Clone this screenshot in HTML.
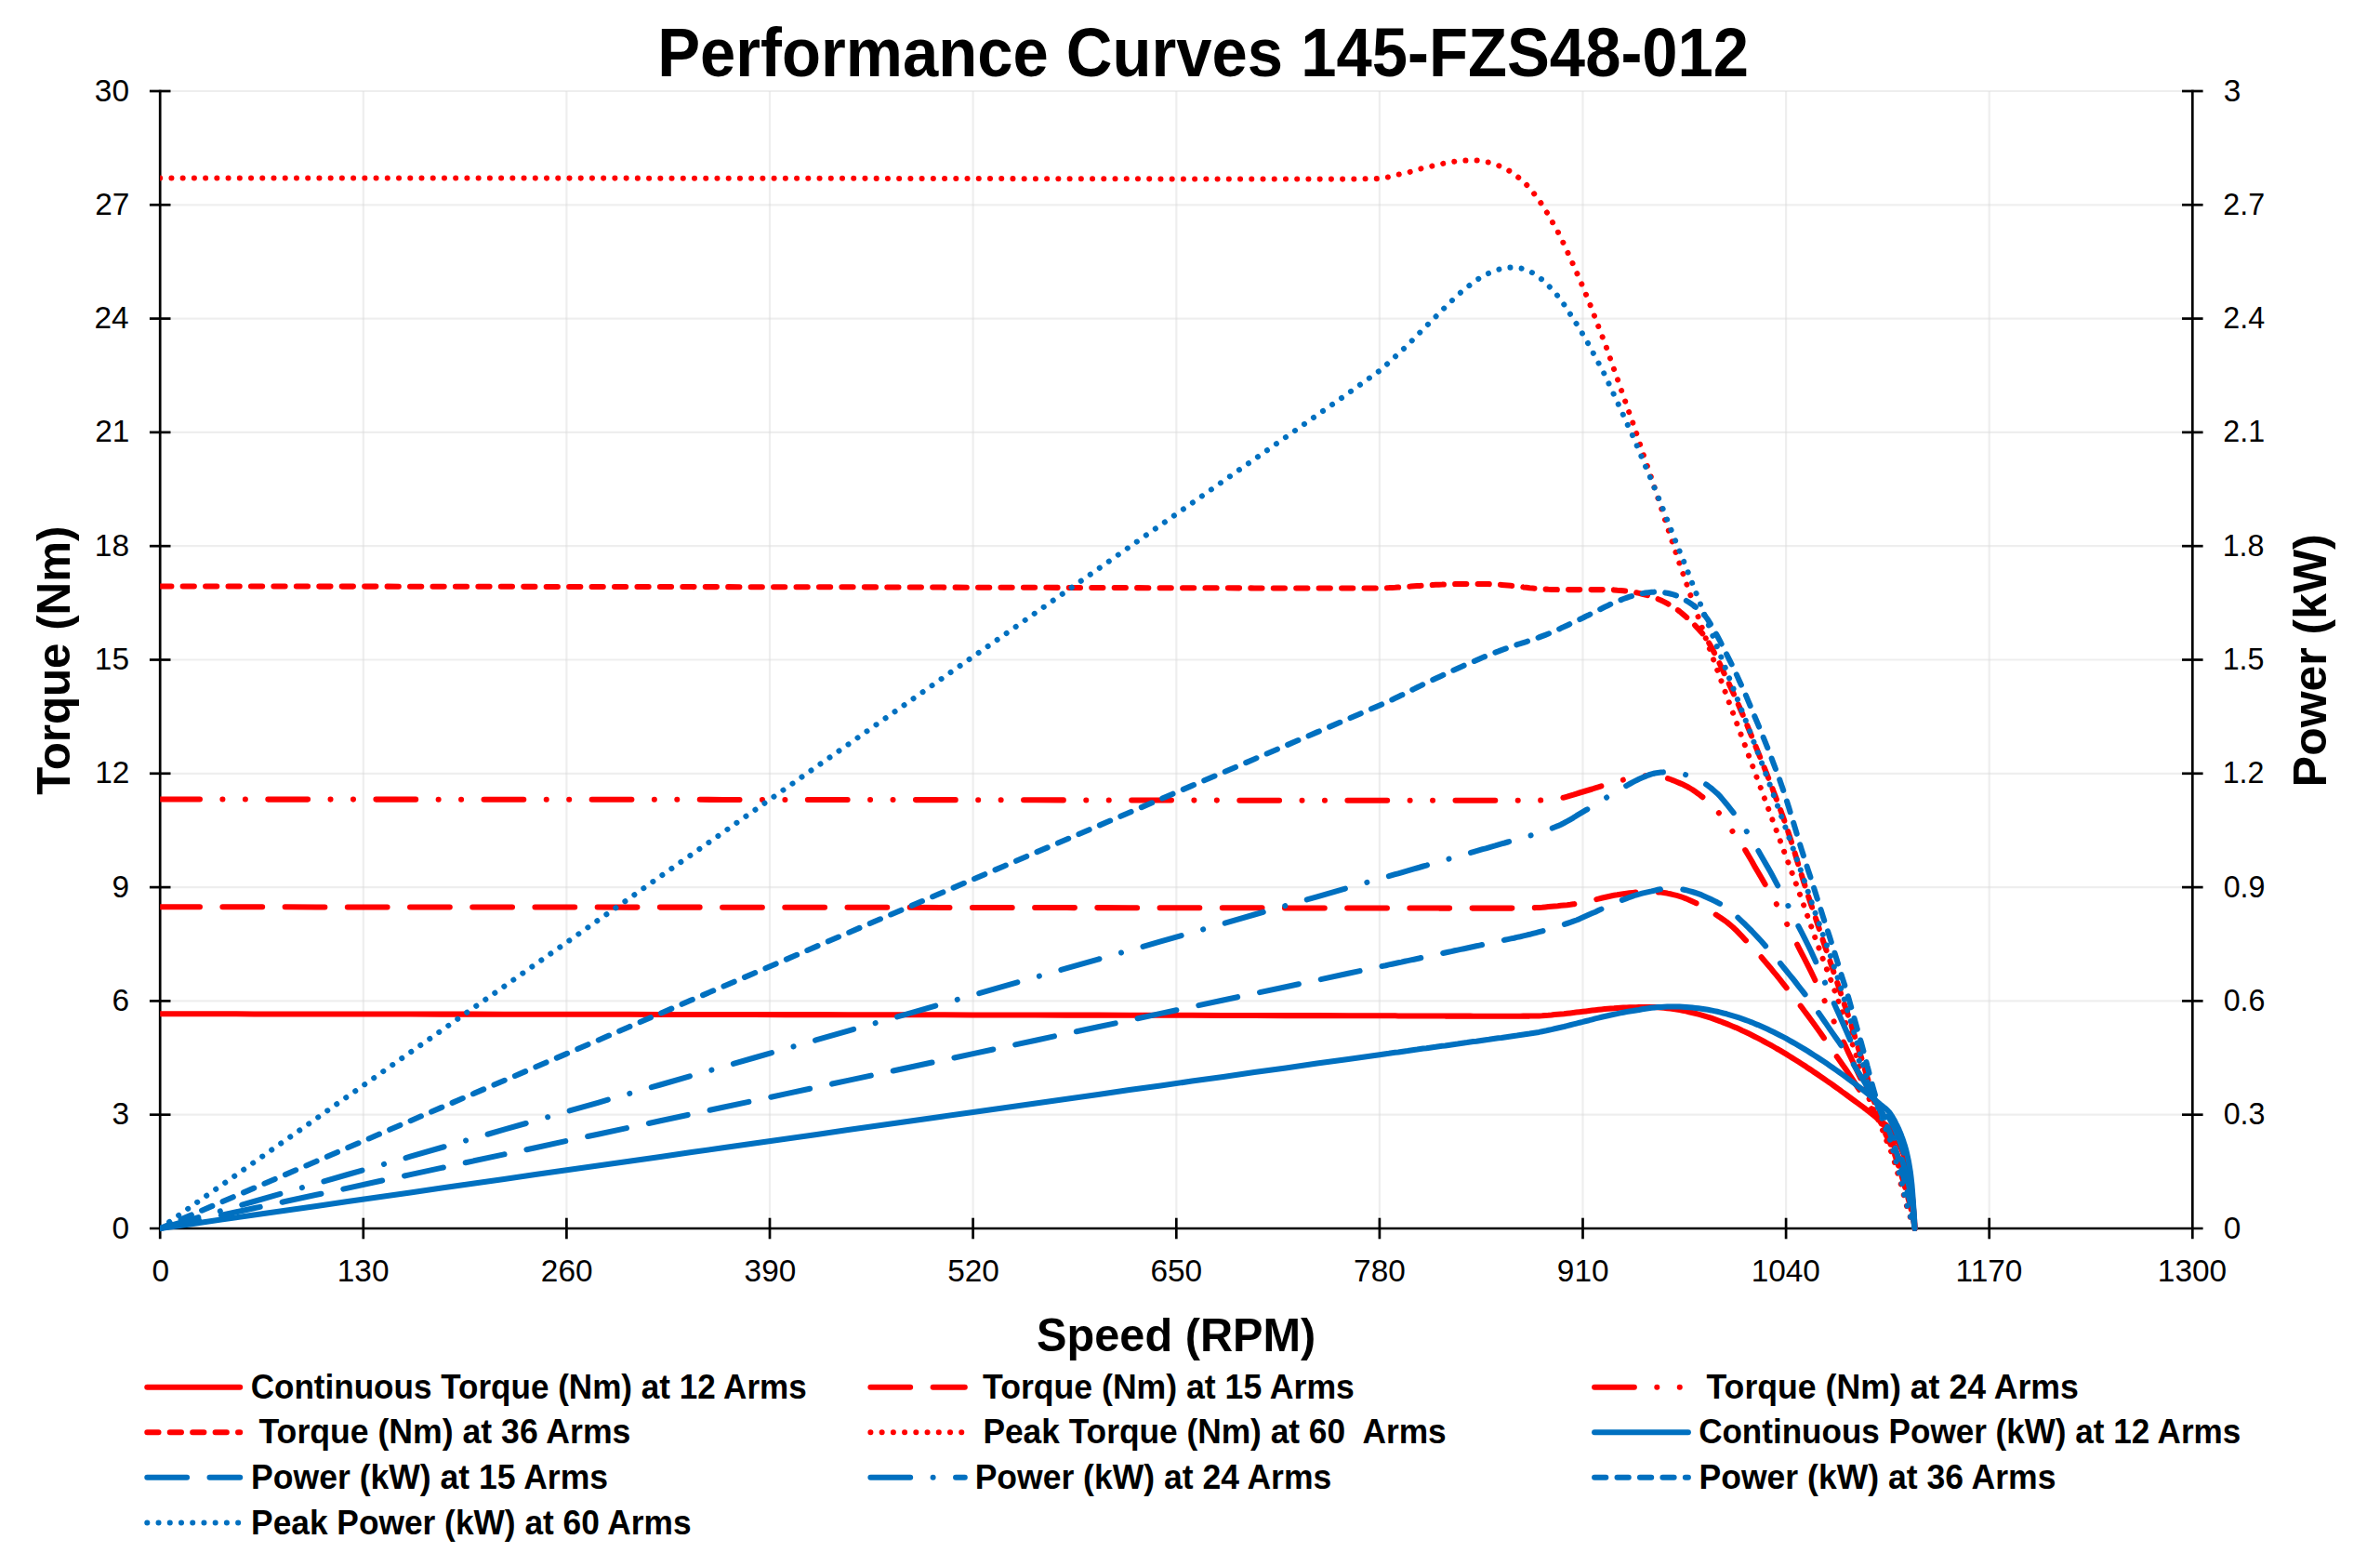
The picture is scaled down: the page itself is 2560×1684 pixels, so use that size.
<!DOCTYPE html>
<html lang="en"><head><meta charset="utf-8"><title>Performance Curves 145-FZS48-012</title>
<style>html,body{margin:0;padding:0;background:#fff}body{width:2560px;height:1684px;overflow:hidden}svg{display:block}text{font-family:"Liberation Sans",Arial,sans-serif;fill:#000}</style></head><body>
<svg width="2560" height="1684" viewBox="0 0 2560 1684">
<rect width="2560" height="1684" fill="#fff"/>
<defs><clipPath id="plot"><rect x="172.2" y="94.0" width="2190.1" height="1231.0"/></clipPath></defs>
<g stroke="#D9D9D9" stroke-opacity="0.46" stroke-width="2.2" fill="none"><line x1="183.2" x2="2347.3" y1="1198.7" y2="1198.7"/><line x1="183.2" x2="2347.3" y1="1076.4" y2="1076.4"/><line x1="183.2" x2="2347.3" y1="954.1" y2="954.1"/><line x1="183.2" x2="2347.3" y1="831.8" y2="831.8"/><line x1="183.2" x2="2347.3" y1="709.5" y2="709.5"/><line x1="183.2" x2="2347.3" y1="587.2" y2="587.2"/><line x1="183.2" x2="2347.3" y1="464.9" y2="464.9"/><line x1="183.2" x2="2347.3" y1="342.6" y2="342.6"/><line x1="183.2" x2="2347.3" y1="220.3" y2="220.3"/><line x1="183.2" x2="2347.3" y1="98.0" y2="98.0"/><line x1="390.8" x2="390.8" y1="98.0" y2="1310.0"/><line x1="609.4" x2="609.4" y1="98.0" y2="1310.0"/><line x1="828.0" x2="828.0" y1="98.0" y2="1310.0"/><line x1="1046.6" x2="1046.6" y1="98.0" y2="1310.0"/><line x1="1265.3" x2="1265.3" y1="98.0" y2="1310.0"/><line x1="1483.9" x2="1483.9" y1="98.0" y2="1310.0"/><line x1="1702.5" x2="1702.5" y1="98.0" y2="1310.0"/><line x1="1921.1" x2="1921.1" y1="98.0" y2="1310.0"/><line x1="2139.7" x2="2139.7" y1="98.0" y2="1310.0"/></g>
<g stroke="#000" stroke-width="2.7" fill="none" stroke-linecap="butt"><line x1="172.2" x2="172.2" y1="96.7" y2="1332.3"/><line x1="2358.3" x2="2358.3" y1="96.7" y2="1332.3"/><line x1="160.9" x2="2369.6" y1="1321.0" y2="1321.0"/><line x1="160.9" x2="183.5" y1="1198.7" y2="1198.7"/><line x1="2347.0" x2="2369.6" y1="1198.7" y2="1198.7"/><line x1="160.9" x2="183.5" y1="1076.4" y2="1076.4"/><line x1="2347.0" x2="2369.6" y1="1076.4" y2="1076.4"/><line x1="160.9" x2="183.5" y1="954.1" y2="954.1"/><line x1="2347.0" x2="2369.6" y1="954.1" y2="954.1"/><line x1="160.9" x2="183.5" y1="831.8" y2="831.8"/><line x1="2347.0" x2="2369.6" y1="831.8" y2="831.8"/><line x1="160.9" x2="183.5" y1="709.5" y2="709.5"/><line x1="2347.0" x2="2369.6" y1="709.5" y2="709.5"/><line x1="160.9" x2="183.5" y1="587.2" y2="587.2"/><line x1="2347.0" x2="2369.6" y1="587.2" y2="587.2"/><line x1="160.9" x2="183.5" y1="464.9" y2="464.9"/><line x1="2347.0" x2="2369.6" y1="464.9" y2="464.9"/><line x1="160.9" x2="183.5" y1="342.6" y2="342.6"/><line x1="2347.0" x2="2369.6" y1="342.6" y2="342.6"/><line x1="160.9" x2="183.5" y1="220.3" y2="220.3"/><line x1="2347.0" x2="2369.6" y1="220.3" y2="220.3"/><line x1="160.9" x2="183.5" y1="98.0" y2="98.0"/><line x1="2347.0" x2="2369.6" y1="98.0" y2="98.0"/><line x1="390.8" x2="390.8" y1="1309.7" y2="1332.3"/><line x1="609.4" x2="609.4" y1="1309.7" y2="1332.3"/><line x1="828.0" x2="828.0" y1="1309.7" y2="1332.3"/><line x1="1046.6" x2="1046.6" y1="1309.7" y2="1332.3"/><line x1="1265.3" x2="1265.3" y1="1309.7" y2="1332.3"/><line x1="1483.9" x2="1483.9" y1="1309.7" y2="1332.3"/><line x1="1702.5" x2="1702.5" y1="1309.7" y2="1332.3"/><line x1="1921.1" x2="1921.1" y1="1309.7" y2="1332.3"/><line x1="2139.7" x2="2139.7" y1="1309.7" y2="1332.3"/></g>
<g clip-path="url(#plot)" fill="none" stroke-width="6.05" stroke-linecap="round" stroke-linejoin="round">
<path stroke="#FF0000" d="M172.2,1090.3 L205.8,1090.3 L239.5,1090.3 L273.1,1090.4 L306.7,1090.4 L340.4,1090.4 L374.0,1090.5 L407.6,1090.5 L441.3,1090.5 L474.9,1090.6 L508.5,1090.6 L542.2,1090.7 L575.8,1090.7 L609.4,1090.7 L643.1,1090.8 L676.7,1090.8 L710.3,1090.9 L743.9,1090.9 L777.6,1091.0 L811.2,1091.0 L844.8,1091.1 L878.5,1091.1 L912.1,1091.2 L945.7,1091.2 L979.4,1091.3 L1013.0,1091.3 L1046.6,1091.4 L1080.3,1091.5 L1113.9,1091.5 L1147.5,1091.6 L1181.2,1091.6 L1214.8,1091.7 L1248.4,1091.8 L1282.1,1091.8 L1315.7,1091.9 L1349.3,1092.0 L1383.0,1092.1 L1416.6,1092.1 L1450.2,1092.2 L1483.9,1092.3 L1487.2,1092.3 L1490.6,1092.3 L1493.9,1092.3 L1497.3,1092.3 L1500.7,1092.3 L1504.0,1092.4 L1507.4,1092.4 L1510.8,1092.4 L1514.1,1092.4 L1517.5,1092.4 L1520.9,1092.4 L1524.2,1092.4 L1527.6,1092.4 L1530.9,1092.5 L1534.3,1092.5 L1537.7,1092.5 L1541.0,1092.5 L1544.4,1092.5 L1547.8,1092.5 L1551.1,1092.5 L1554.5,1092.6 L1557.9,1092.6 L1561.2,1092.6 L1564.6,1092.6 L1567.9,1092.6 L1571.3,1092.6 L1574.7,1092.6 L1578.0,1092.6 L1581.4,1092.6 L1584.8,1092.7 L1588.1,1092.7 L1591.5,1092.7 L1594.8,1092.7 L1598.2,1092.7 L1601.6,1092.7 L1604.9,1092.7 L1608.3,1092.7 L1611.7,1092.7 L1615.0,1092.7 L1618.4,1092.7 L1621.8,1092.7 L1625.1,1092.7 L1628.5,1092.7 L1631.8,1092.7 L1635.2,1092.7 L1638.6,1092.6 L1641.9,1092.6 L1645.3,1092.6 L1648.7,1092.5 L1652.0,1092.5 L1655.4,1092.4 L1658.7,1092.3 L1662.1,1092.0 L1665.5,1091.8 L1668.8,1091.5 L1672.2,1091.1 L1675.6,1090.8 L1678.9,1090.5 L1682.3,1090.2 L1685.7,1089.8 L1689.0,1089.4 L1692.4,1089.0 L1695.7,1088.6 L1699.1,1088.2 L1702.5,1087.8 L1705.8,1087.4 L1709.2,1087.0 L1712.6,1086.6 L1715.9,1086.2 L1719.3,1085.8 L1722.6,1085.4 L1726.0,1085.1 L1729.4,1084.8 L1732.7,1084.5 L1736.1,1084.3 L1739.5,1084.0 L1742.8,1083.8 L1746.2,1083.6 L1749.6,1083.4 L1752.9,1083.3 L1756.3,1083.2 L1759.6,1083.2 L1763.0,1083.1 L1766.4,1083.0 L1769.7,1083.0 L1773.1,1082.9 L1776.5,1082.9 L1779.8,1083.0 L1783.2,1083.2 L1786.6,1083.5 L1789.9,1083.8 L1793.3,1084.2 L1796.6,1084.6 L1800.0,1085.0 L1803.4,1085.5 L1806.7,1086.1 L1810.1,1086.7 L1813.5,1087.4 L1816.8,1088.2 L1820.2,1089.0 L1823.5,1089.8 L1826.9,1090.7 L1830.3,1091.6 L1833.6,1092.6 L1837.0,1093.6 L1840.4,1094.7 L1843.7,1095.9 L1847.1,1097.1 L1850.5,1098.3 L1853.8,1099.6 L1857.2,1100.9 L1860.5,1102.3 L1863.9,1103.7 L1867.3,1105.1 L1870.6,1106.6 L1874.0,1108.2 L1877.4,1109.7 L1880.7,1111.3 L1884.1,1113.0 L1887.4,1114.7 L1890.8,1116.4 L1894.2,1118.2 L1897.5,1120.0 L1900.9,1121.8 L1904.3,1123.6 L1907.6,1125.5 L1911.0,1127.5 L1914.4,1129.4 L1917.7,1131.4 L1921.1,1133.4 L1924.4,1135.5 L1927.8,1137.6 L1931.2,1139.7 L1934.5,1141.8 L1937.9,1144.0 L1941.3,1146.1 L1944.6,1148.4 L1948.0,1150.6 L1951.3,1152.9 L1954.7,1155.1 L1958.1,1157.4 L1961.4,1159.7 L1964.8,1162.1 L1968.2,1164.4 L1971.5,1166.8 L1974.9,1169.2 L1978.3,1171.6 L1981.6,1174.1 L1985.0,1176.5 L1988.3,1179.0 L1991.7,1181.5 L1995.1,1184.0 L1998.4,1186.4 L2001.8,1188.9 L2005.2,1191.4 L2006.0,1192.1 L2006.8,1192.7 L2007.7,1193.4 L2008.5,1194.0 L2009.4,1194.6 L2010.2,1195.3 L2011.0,1196.0 L2011.9,1196.6 L2012.7,1197.3 L2013.6,1197.9 L2014.4,1198.6 L2015.3,1199.3 L2016.1,1200.0 L2016.9,1200.7 L2017.8,1201.4 L2018.6,1202.1 L2019.5,1202.8 L2020.3,1203.4 L2021.1,1204.1 L2022.0,1204.8 L2022.8,1205.5 L2023.7,1206.1 L2024.5,1206.7 L2025.3,1207.4 L2026.2,1208.0 L2027.0,1208.6 L2027.9,1209.2 L2028.7,1209.9 L2029.5,1210.6 L2030.4,1211.4 L2031.2,1212.2 L2032.1,1213.1 L2032.9,1214.1 L2033.7,1215.2 L2034.6,1216.3 L2035.4,1217.5 L2036.3,1218.8 L2037.1,1220.2 L2038.0,1221.5 L2038.8,1222.9 L2039.6,1224.3 L2040.5,1225.8 L2041.3,1227.4 L2042.2,1229.0 L2043.0,1230.7 L2043.8,1232.4 L2044.7,1234.3 L2045.5,1236.2 L2046.4,1238.2 L2047.2,1240.3 L2048.0,1242.5 L2048.9,1244.9 L2049.7,1247.4 L2050.6,1250.1 L2051.4,1253.1 L2052.2,1256.4 L2053.1,1260.1 L2053.9,1264.3 L2054.8,1269.0 L2055.6,1274.5 L2056.5,1281.6 L2057.3,1290.2 L2058.1,1299.8 L2059.0,1310.8 L2059.6,1321.0"/>
<path stroke="#FF0000" stroke-dasharray="42.77 24.44" d="M172.2,975.3 L205.8,975.3 L239.5,975.3 L273.1,975.3 L306.7,975.3 L340.4,975.4 L374.0,975.4 L407.6,975.4 L441.3,975.4 L474.9,975.4 L508.5,975.5 L542.2,975.5 L575.8,975.5 L609.4,975.5 L643.1,975.6 L676.7,975.6 L710.3,975.6 L743.9,975.6 L777.6,975.7 L811.2,975.7 L844.8,975.7 L878.5,975.7 L912.1,975.8 L945.7,975.8 L979.4,975.8 L1013.0,975.9 L1046.6,975.9 L1080.3,976.0 L1113.9,976.0 L1147.5,976.1 L1181.2,976.1 L1214.8,976.2 L1248.4,976.2 L1282.1,976.2 L1315.7,976.3 L1349.3,976.3 L1383.0,976.4 L1416.6,976.4 L1450.2,976.5 L1483.9,976.5 L1487.2,976.5 L1490.6,976.5 L1493.9,976.5 L1497.3,976.5 L1500.7,976.5 L1504.0,976.5 L1507.4,976.5 L1510.8,976.5 L1514.1,976.5 L1517.5,976.5 L1520.9,976.5 L1524.2,976.5 L1527.6,976.5 L1530.9,976.5 L1534.3,976.5 L1537.7,976.5 L1541.0,976.5 L1544.4,976.5 L1547.8,976.6 L1551.1,976.6 L1554.5,976.6 L1557.9,976.6 L1561.2,976.6 L1564.6,976.6 L1567.9,976.6 L1571.3,976.6 L1574.7,976.6 L1578.0,976.6 L1581.4,976.6 L1584.8,976.6 L1588.1,976.6 L1591.5,976.6 L1594.8,976.6 L1598.2,976.6 L1601.6,976.6 L1604.9,976.6 L1608.3,976.6 L1611.7,976.6 L1615.0,976.6 L1618.4,976.6 L1621.8,976.6 L1625.1,976.6 L1628.5,976.6 L1631.8,976.6 L1635.2,976.5 L1638.6,976.5 L1641.9,976.4 L1645.3,976.3 L1648.7,976.2 L1652.0,976.1 L1655.4,975.9 L1658.7,975.7 L1662.1,975.4 L1665.5,975.1 L1668.8,974.8 L1672.2,974.5 L1675.6,974.2 L1678.9,973.8 L1682.3,973.5 L1685.7,973.2 L1689.0,972.8 L1692.4,972.3 L1695.7,971.8 L1699.1,971.1 L1702.5,970.4 L1705.8,969.6 L1709.2,968.9 L1712.6,968.1 L1715.9,967.4 L1719.3,966.6 L1722.6,965.8 L1726.0,965.0 L1729.4,964.2 L1732.7,963.5 L1736.1,962.8 L1739.5,962.3 L1742.8,961.7 L1746.2,961.2 L1749.6,960.7 L1752.9,960.2 L1756.3,959.9 L1759.6,959.6 L1763.0,959.4 L1766.4,959.4 L1769.7,959.4 L1773.1,959.4 L1776.5,959.4 L1779.8,959.4 L1783.2,959.4 L1786.6,959.6 L1789.9,960.0 L1793.3,960.6 L1796.6,961.3 L1800.0,962.1 L1803.4,962.9 L1806.7,963.8 L1810.1,965.0 L1813.5,966.3 L1816.8,967.7 L1820.2,969.3 L1823.5,970.8 L1826.9,972.5 L1830.3,974.3 L1833.6,976.2 L1837.0,978.2 L1840.4,980.3 L1843.7,982.3 L1847.1,984.5 L1850.5,986.7 L1853.8,989.0 L1857.2,991.4 L1860.5,994.1 L1863.9,997.0 L1867.3,1000.2 L1870.6,1003.7 L1874.0,1007.2 L1877.4,1010.8 L1880.7,1014.3 L1884.1,1017.8 L1887.4,1021.4 L1890.8,1025.1 L1894.2,1028.8 L1897.5,1032.7 L1900.9,1036.7 L1904.3,1040.7 L1907.6,1044.8 L1911.0,1048.9 L1914.4,1053.2 L1917.7,1057.4 L1921.1,1061.7 L1924.4,1066.0 L1927.8,1070.2 L1931.2,1074.5 L1934.5,1078.8 L1937.9,1083.2 L1941.3,1087.7 L1944.6,1092.1 L1948.0,1096.7 L1951.3,1101.3 L1954.7,1106.0 L1958.1,1110.7 L1961.4,1115.5 L1964.8,1120.4 L1968.2,1125.3 L1971.5,1130.2 L1974.9,1135.1 L1978.3,1139.8 L1981.6,1144.5 L1985.0,1149.2 L1988.3,1154.1 L1991.7,1159.1 L1995.1,1164.3 L1998.4,1169.6 L2001.8,1174.8 L2005.2,1179.9 L2006.0,1181.2 L2006.8,1182.5 L2007.7,1183.8 L2008.5,1185.1 L2009.4,1186.4 L2010.2,1187.7 L2011.0,1189.0 L2011.9,1190.4 L2012.7,1191.8 L2013.6,1193.2 L2014.4,1194.6 L2015.3,1196.0 L2016.1,1197.4 L2016.9,1198.8 L2017.8,1200.1 L2018.6,1201.3 L2019.5,1202.5 L2020.3,1203.6 L2021.1,1204.6 L2022.0,1205.5 L2022.8,1206.4 L2023.7,1207.2 L2024.5,1208.0 L2025.3,1208.9 L2026.2,1209.8 L2027.0,1210.7 L2027.9,1211.7 L2028.7,1212.7 L2029.5,1213.7 L2030.4,1214.8 L2031.2,1215.9 L2032.1,1217.1 L2032.9,1218.4 L2033.7,1219.7 L2034.6,1221.1 L2035.4,1222.5 L2036.3,1224.0 L2037.1,1225.6 L2038.0,1227.2 L2038.8,1228.8 L2039.6,1230.6 L2040.5,1232.4 L2041.3,1234.2 L2042.2,1236.1 L2043.0,1238.0 L2043.8,1240.0 L2044.7,1242.1 L2045.5,1244.3 L2046.4,1246.5 L2047.2,1248.8 L2048.0,1251.2 L2048.9,1253.7 L2049.7,1256.4 L2050.6,1259.2 L2051.4,1262.2 L2052.2,1265.4 L2053.1,1268.8 L2053.9,1272.6 L2054.8,1277.0 L2055.6,1282.1 L2056.5,1288.3 L2057.3,1295.3 L2058.1,1303.4 L2059.0,1312.7 L2059.6,1321.0"/>
<path stroke="#FF0000" stroke-dasharray="42.77 24.44 0.01 24.44 0.01 24.44" d="M172.2,859.5 L205.8,859.5 L239.5,859.5 L273.1,859.6 L306.7,859.6 L340.4,859.6 L374.0,859.6 L407.6,859.6 L441.3,859.6 L474.9,859.7 L508.5,859.7 L542.2,859.7 L575.8,859.7 L609.4,859.7 L643.1,859.8 L676.7,859.8 L710.3,859.8 L743.9,859.8 L777.6,859.9 L811.2,859.9 L844.8,859.9 L878.5,860.0 L912.1,860.0 L945.7,860.0 L979.4,860.1 L1013.0,860.1 L1046.6,860.2 L1080.3,860.2 L1113.9,860.3 L1147.5,860.4 L1181.2,860.4 L1214.8,860.5 L1248.4,860.5 L1282.1,860.6 L1315.7,860.6 L1349.3,860.7 L1383.0,860.7 L1416.6,860.7 L1450.2,860.7 L1483.9,860.7 L1487.2,860.7 L1490.6,860.7 L1493.9,860.7 L1497.3,860.7 L1500.7,860.7 L1504.0,860.7 L1507.4,860.7 L1510.8,860.7 L1514.1,860.7 L1517.5,860.7 L1520.9,860.7 L1524.2,860.7 L1527.6,860.7 L1530.9,860.7 L1534.3,860.7 L1537.7,860.7 L1541.0,860.7 L1544.4,860.7 L1547.8,860.7 L1551.1,860.7 L1554.5,860.7 L1557.9,860.7 L1561.2,860.7 L1564.6,860.7 L1567.9,860.7 L1571.3,860.7 L1574.7,860.7 L1578.0,860.7 L1581.4,860.7 L1584.8,860.7 L1588.1,860.7 L1591.5,860.7 L1594.8,860.7 L1598.2,860.7 L1601.6,860.7 L1604.9,860.7 L1608.3,860.7 L1611.7,860.7 L1615.0,860.7 L1618.4,860.7 L1621.8,860.7 L1625.1,860.7 L1628.5,860.7 L1631.8,860.7 L1635.2,860.7 L1638.6,860.7 L1641.9,860.7 L1645.3,860.7 L1648.7,860.7 L1652.0,860.7 L1655.4,860.7 L1658.7,860.5 L1662.1,860.3 L1665.5,860.0 L1668.8,859.6 L1672.2,859.2 L1675.6,858.8 L1678.9,858.3 L1682.3,857.6 L1685.7,856.7 L1689.0,855.7 L1692.4,854.7 L1695.7,853.6 L1699.1,852.5 L1702.5,851.5 L1705.8,850.5 L1709.2,849.5 L1712.6,848.5 L1715.9,847.4 L1719.3,846.4 L1722.6,845.4 L1726.0,844.4 L1729.4,843.3 L1732.7,842.3 L1736.1,841.3 L1739.5,840.4 L1742.8,839.5 L1746.2,838.6 L1749.6,837.8 L1752.9,837.0 L1756.3,836.2 L1759.6,835.6 L1763.0,835.1 L1766.4,834.6 L1769.7,834.2 L1773.1,834.0 L1776.5,833.8 L1779.8,834.0 L1783.2,834.5 L1786.6,835.2 L1789.9,835.9 L1793.3,836.8 L1796.6,838.0 L1800.0,839.3 L1803.4,840.7 L1806.7,842.1 L1810.1,843.6 L1813.5,845.2 L1816.8,847.0 L1820.2,849.0 L1823.5,851.3 L1826.9,853.7 L1830.3,856.3 L1833.6,859.0 L1837.0,862.0 L1840.4,865.2 L1843.7,868.6 L1847.1,872.2 L1850.5,876.1 L1853.8,880.5 L1857.2,885.1 L1860.5,889.8 L1863.9,894.5 L1867.3,899.2 L1870.6,904.1 L1874.0,909.1 L1877.4,914.4 L1880.7,920.0 L1884.1,925.8 L1887.4,931.7 L1890.8,937.5 L1894.2,943.3 L1897.5,949.1 L1900.9,955.0 L1904.3,960.7 L1907.6,966.5 L1911.0,972.5 L1914.4,978.8 L1917.7,985.2 L1921.1,991.7 L1924.4,998.3 L1927.8,1005.1 L1931.2,1011.9 L1934.5,1018.5 L1937.9,1025.1 L1941.3,1031.6 L1944.6,1038.2 L1948.0,1044.9 L1951.3,1051.8 L1954.7,1058.9 L1958.1,1066.2 L1961.4,1073.6 L1964.8,1081.0 L1968.2,1088.6 L1971.5,1096.0 L1974.9,1103.3 L1978.3,1110.4 L1981.6,1117.6 L1985.0,1124.7 L1988.3,1131.9 L1991.7,1139.0 L1995.1,1146.2 L1998.4,1153.4 L2001.8,1160.8 L2005.2,1168.5 L2006.0,1170.5 L2006.8,1172.5 L2007.7,1174.5 L2008.5,1176.5 L2009.4,1178.5 L2010.2,1180.6 L2011.0,1182.6 L2011.9,1184.6 L2012.7,1186.6 L2013.6,1188.5 L2014.4,1190.5 L2015.3,1192.4 L2016.1,1194.2 L2016.9,1196.0 L2017.8,1197.8 L2018.6,1199.5 L2019.5,1201.2 L2020.3,1202.8 L2021.1,1204.3 L2022.0,1205.7 L2022.8,1207.1 L2023.7,1208.5 L2024.5,1209.8 L2025.3,1211.1 L2026.2,1212.5 L2027.0,1213.8 L2027.9,1215.2 L2028.7,1216.5 L2029.5,1217.9 L2030.4,1219.2 L2031.2,1220.6 L2032.1,1222.1 L2032.9,1223.7 L2033.7,1225.3 L2034.6,1227.0 L2035.4,1228.7 L2036.3,1230.5 L2037.1,1232.3 L2038.0,1234.3 L2038.8,1236.3 L2039.6,1238.4 L2040.5,1240.6 L2041.3,1242.8 L2042.2,1245.0 L2043.0,1247.3 L2043.8,1249.6 L2044.7,1251.9 L2045.5,1254.4 L2046.4,1256.8 L2047.2,1259.4 L2048.0,1262.0 L2048.9,1264.8 L2049.7,1267.6 L2050.6,1270.5 L2051.4,1273.5 L2052.2,1276.6 L2053.1,1279.8 L2053.9,1283.1 L2054.8,1286.9 L2055.6,1291.2 L2056.5,1296.1 L2057.3,1301.6 L2058.1,1307.8 L2059.0,1314.9 L2059.6,1321.0"/>
<path stroke="#FF0000" stroke-dasharray="12.22 12.22" d="M172.2,630.4 L205.8,630.4 L239.5,630.5 L273.1,630.5 L306.7,630.5 L340.4,630.6 L374.0,630.6 L407.6,630.6 L441.3,630.7 L474.9,630.7 L508.5,630.8 L542.2,630.8 L575.8,630.9 L609.4,630.9 L643.1,630.9 L676.7,631.0 L710.3,631.0 L743.9,631.1 L777.6,631.1 L811.2,631.2 L844.8,631.2 L878.5,631.3 L912.1,631.3 L945.7,631.4 L979.4,631.5 L1013.0,631.6 L1046.6,631.7 L1080.3,631.8 L1113.9,631.8 L1147.5,631.9 L1181.2,632.0 L1214.8,632.1 L1248.4,632.2 L1282.1,632.2 L1315.7,632.3 L1349.3,632.4 L1383.0,632.4 L1416.6,632.4 L1450.2,632.4 L1483.9,632.4 L1487.2,632.3 L1490.6,632.2 L1493.9,632.1 L1497.3,631.9 L1500.7,631.8 L1504.0,631.6 L1507.4,631.4 L1510.8,631.2 L1514.1,630.9 L1517.5,630.6 L1520.9,630.3 L1524.2,630.1 L1527.6,629.9 L1530.9,629.6 L1534.3,629.4 L1537.7,629.2 L1541.0,629.0 L1544.4,628.8 L1547.8,628.7 L1551.1,628.6 L1554.5,628.4 L1557.9,628.3 L1561.2,628.2 L1564.6,628.1 L1567.9,628.0 L1571.3,628.0 L1574.7,628.0 L1578.0,628.0 L1581.4,628.0 L1584.8,628.0 L1588.1,628.0 L1591.5,628.0 L1594.8,628.0 L1598.2,628.0 L1601.6,628.1 L1604.9,628.3 L1608.3,628.5 L1611.7,628.7 L1615.0,628.9 L1618.4,629.2 L1621.8,629.5 L1625.1,629.8 L1628.5,630.1 L1631.8,630.5 L1635.2,630.9 L1638.6,631.4 L1641.9,631.8 L1645.3,632.3 L1648.7,632.6 L1652.0,632.9 L1655.4,633.2 L1658.7,633.4 L1662.1,633.6 L1665.5,633.8 L1668.8,633.9 L1672.2,634.0 L1675.6,634.1 L1678.9,634.1 L1682.3,634.1 L1685.7,634.1 L1689.0,634.1 L1692.4,634.1 L1695.7,634.1 L1699.1,634.1 L1702.5,634.1 L1705.8,634.1 L1709.2,634.1 L1712.6,634.1 L1715.9,634.1 L1719.3,634.1 L1722.6,634.1 L1726.0,634.1 L1729.4,634.1 L1732.7,634.2 L1736.1,634.4 L1739.5,634.7 L1742.8,634.9 L1746.2,635.2 L1749.6,635.6 L1752.9,636.0 L1756.3,636.6 L1759.6,637.2 L1763.0,637.9 L1766.4,638.7 L1769.7,639.5 L1773.1,640.5 L1776.5,641.6 L1779.8,642.7 L1783.2,644.1 L1786.6,645.5 L1789.9,647.1 L1793.3,648.9 L1796.6,650.7 L1800.0,652.8 L1803.4,655.0 L1806.7,657.5 L1810.1,660.3 L1813.5,663.2 L1816.8,666.2 L1820.2,669.4 L1823.5,672.8 L1826.9,676.4 L1830.3,680.2 L1833.6,684.3 L1837.0,689.3 L1840.4,695.2 L1843.7,701.5 L1847.1,708.2 L1850.5,715.2 L1853.8,722.4 L1857.2,729.7 L1860.5,736.9 L1863.9,744.1 L1867.3,751.6 L1870.6,759.4 L1874.0,767.3 L1877.4,775.2 L1880.7,783.3 L1884.1,791.6 L1887.4,800.0 L1890.8,808.3 L1894.2,816.6 L1897.5,825.0 L1900.9,833.5 L1904.3,842.1 L1907.6,851.0 L1911.0,859.9 L1914.4,868.9 L1917.7,878.0 L1921.1,887.5 L1924.4,897.6 L1927.8,908.1 L1931.2,919.3 L1934.5,930.3 L1937.9,941.2 L1941.3,952.0 L1944.6,962.5 L1948.0,972.4 L1951.3,982.3 L1954.7,992.5 L1958.1,1002.9 L1961.4,1013.0 L1964.8,1022.9 L1968.2,1032.8 L1971.5,1042.7 L1974.9,1052.7 L1978.3,1063.0 L1981.6,1073.3 L1985.0,1083.3 L1988.3,1093.1 L1991.7,1103.5 L1995.1,1114.6 L1998.4,1125.7 L2001.8,1136.5 L2005.2,1147.3 L2006.0,1150.1 L2006.8,1152.9 L2007.7,1155.8 L2008.5,1158.7 L2009.4,1161.7 L2010.2,1164.6 L2011.0,1167.6 L2011.9,1170.5 L2012.7,1173.4 L2013.6,1176.3 L2014.4,1179.2 L2015.3,1182.0 L2016.1,1184.9 L2016.9,1187.8 L2017.8,1190.7 L2018.6,1193.4 L2019.5,1196.1 L2020.3,1198.7 L2021.1,1201.2 L2022.0,1203.7 L2022.8,1206.1 L2023.7,1208.4 L2024.5,1210.7 L2025.3,1212.9 L2026.2,1215.0 L2027.0,1217.0 L2027.9,1218.8 L2028.7,1220.5 L2029.5,1222.1 L2030.4,1223.7 L2031.2,1225.4 L2032.1,1227.1 L2032.9,1229.0 L2033.7,1230.9 L2034.6,1232.8 L2035.4,1234.8 L2036.3,1236.9 L2037.1,1239.1 L2038.0,1241.4 L2038.8,1243.8 L2039.6,1246.2 L2040.5,1248.8 L2041.3,1251.3 L2042.2,1253.9 L2043.0,1256.5 L2043.8,1259.1 L2044.7,1261.8 L2045.5,1264.5 L2046.4,1267.2 L2047.2,1270.0 L2048.0,1272.9 L2048.9,1275.8 L2049.7,1278.8 L2050.6,1281.9 L2051.4,1284.9 L2052.2,1287.8 L2053.1,1290.7 L2053.9,1293.7 L2054.8,1296.9 L2055.6,1300.3 L2056.5,1304.0 L2057.3,1308.0 L2058.1,1312.3 L2059.0,1317.0 L2059.6,1321.0"/>
<path stroke="#FF0000" stroke-dasharray="0.01 12.22" d="M172.2,191.4 L205.8,191.4 L239.5,191.4 L273.1,191.4 L306.7,191.4 L340.4,191.4 L374.0,191.4 L407.6,191.4 L441.3,191.5 L474.9,191.5 L508.5,191.5 L542.2,191.5 L575.8,191.6 L609.4,191.6 L643.1,191.6 L676.7,191.6 L710.3,191.7 L743.9,191.7 L777.6,191.7 L811.2,191.7 L844.8,191.8 L878.5,191.8 L912.1,191.8 L945.7,191.9 L979.4,191.9 L1013.0,192.0 L1046.6,192.0 L1080.3,192.1 L1113.9,192.2 L1147.5,192.2 L1181.2,192.3 L1214.8,192.3 L1248.4,192.4 L1282.1,192.4 L1315.7,192.5 L1349.3,192.5 L1383.0,192.5 L1416.6,192.6 L1450.2,192.6 L1483.9,192.1 L1487.2,191.6 L1490.6,191.0 L1493.9,190.3 L1497.3,189.4 L1500.7,188.5 L1504.0,187.7 L1507.4,187.0 L1510.8,186.3 L1514.1,185.5 L1517.5,184.6 L1520.9,183.5 L1524.2,182.5 L1527.6,181.6 L1530.9,180.7 L1534.3,180.0 L1537.7,179.2 L1541.0,178.4 L1544.4,177.6 L1547.8,176.8 L1551.1,176.1 L1554.5,175.4 L1557.9,174.7 L1561.2,174.2 L1564.6,173.7 L1567.9,173.2 L1571.3,172.8 L1574.7,172.6 L1578.0,172.5 L1581.4,172.4 L1584.8,172.4 L1588.1,172.5 L1591.5,172.8 L1594.8,173.4 L1598.2,174.0 L1601.6,174.7 L1604.9,175.7 L1608.3,176.8 L1611.7,178.0 L1615.0,179.4 L1618.4,180.9 L1621.8,182.7 L1625.1,184.8 L1628.5,187.2 L1631.8,189.7 L1635.2,192.4 L1638.6,195.3 L1641.9,198.6 L1645.3,202.4 L1648.7,206.4 L1652.0,210.7 L1655.4,215.3 L1658.7,220.2 L1662.1,225.5 L1665.5,231.1 L1668.8,237.0 L1672.2,242.9 L1675.6,249.1 L1678.9,255.7 L1682.3,262.7 L1685.7,270.1 L1689.0,277.6 L1692.4,285.1 L1695.7,292.6 L1699.1,300.3 L1702.5,308.2 L1705.8,316.3 L1709.2,324.6 L1712.6,333.3 L1715.9,342.3 L1719.3,351.1 L1722.6,359.7 L1726.0,368.4 L1729.4,377.7 L1732.7,387.6 L1736.1,397.2 L1739.5,406.7 L1742.8,416.2 L1746.2,425.9 L1749.6,435.6 L1752.9,445.2 L1756.3,454.6 L1759.6,464.3 L1763.0,474.5 L1766.4,484.9 L1769.7,494.9 L1773.1,504.8 L1776.5,514.8 L1779.8,524.9 L1783.2,535.1 L1786.6,545.4 L1789.9,555.7 L1793.3,566.0 L1796.6,576.2 L1800.0,586.4 L1803.4,596.5 L1806.7,606.4 L1810.1,616.2 L1813.5,625.9 L1816.8,635.6 L1820.2,645.2 L1823.5,654.7 L1826.9,664.2 L1830.3,673.7 L1833.6,683.1 L1837.0,692.5 L1840.4,701.8 L1843.7,711.1 L1847.1,720.4 L1850.5,729.6 L1853.8,738.8 L1857.2,748.0 L1860.5,757.2 L1863.9,766.3 L1867.3,775.4 L1870.6,784.5 L1874.0,793.6 L1877.4,802.7 L1880.7,811.8 L1884.1,820.9 L1887.4,830.0 L1890.8,839.1 L1894.2,848.2 L1897.5,857.3 L1900.9,866.4 L1904.3,875.5 L1907.6,884.6 L1911.0,893.8 L1914.4,902.9 L1917.7,912.1 L1921.1,921.1 L1924.4,930.2 L1927.8,939.3 L1931.2,948.5 L1934.5,957.7 L1937.9,967.1 L1941.3,976.6 L1944.6,986.2 L1948.0,995.7 L1951.3,1005.3 L1954.7,1014.7 L1958.1,1023.9 L1961.4,1032.9 L1964.8,1041.9 L1968.2,1050.9 L1971.5,1060.1 L1974.9,1069.4 L1978.3,1079.1 L1981.6,1089.1 L1985.0,1099.3 L1988.3,1109.6 L1991.7,1120.0 L1995.1,1130.4 L1998.4,1140.8 L2001.8,1151.8 L2005.2,1163.1 L2006.0,1165.9 L2006.8,1168.6 L2007.7,1171.4 L2008.5,1174.1 L2009.4,1176.7 L2010.2,1179.4 L2011.0,1181.9 L2011.9,1184.4 L2012.7,1186.8 L2013.6,1189.1 L2014.4,1191.3 L2015.3,1193.4 L2016.1,1195.5 L2016.9,1197.3 L2017.8,1198.9 L2018.6,1200.5 L2019.5,1202.1 L2020.3,1203.9 L2021.1,1205.9 L2022.0,1207.9 L2022.8,1210.0 L2023.7,1212.1 L2024.5,1214.2 L2025.3,1216.3 L2026.2,1218.5 L2027.0,1220.7 L2027.9,1222.9 L2028.7,1225.1 L2029.5,1227.2 L2030.4,1229.3 L2031.2,1231.2 L2032.1,1233.1 L2032.9,1235.1 L2033.7,1237.2 L2034.6,1239.4 L2035.4,1241.8 L2036.3,1244.4 L2037.1,1247.2 L2038.0,1250.1 L2038.8,1253.1 L2039.6,1256.0 L2040.5,1258.9 L2041.3,1261.7 L2042.2,1264.6 L2043.0,1267.5 L2043.8,1270.4 L2044.7,1273.3 L2045.5,1276.4 L2046.4,1279.5 L2047.2,1282.7 L2048.0,1286.1 L2048.9,1289.5 L2049.7,1292.8 L2050.6,1295.7 L2051.4,1298.5 L2052.2,1301.2 L2053.1,1303.8 L2053.9,1306.3 L2054.8,1308.8 L2055.6,1311.2 L2056.5,1313.4 L2057.3,1315.6 L2058.1,1317.6 L2059.0,1319.6 L2059.6,1321.0"/>
<path stroke="#0070C0" d="M172.2,1321.0 L205.8,1316.2 L239.5,1311.3 L273.1,1306.5 L306.7,1301.7 L340.4,1296.9 L374.0,1292.0 L407.6,1287.2 L441.3,1282.4 L474.9,1277.6 L508.5,1272.7 L542.2,1267.9 L575.8,1263.1 L609.4,1258.3 L643.1,1253.5 L676.7,1248.7 L710.3,1243.9 L743.9,1239.1 L777.6,1234.3 L811.2,1229.5 L844.8,1224.7 L878.5,1219.9 L912.1,1215.1 L945.7,1210.3 L979.4,1205.5 L1013.0,1200.7 L1046.6,1196.0 L1080.3,1191.2 L1113.9,1186.4 L1147.5,1181.7 L1181.2,1176.9 L1214.8,1172.1 L1248.4,1167.4 L1282.1,1162.6 L1315.7,1157.9 L1349.3,1153.1 L1383.0,1148.4 L1416.6,1143.6 L1450.2,1138.9 L1483.9,1134.2 L1487.2,1133.7 L1490.6,1133.2 L1493.9,1132.8 L1497.3,1132.3 L1500.7,1131.8 L1504.0,1131.4 L1507.4,1130.9 L1510.8,1130.4 L1514.1,1130.0 L1517.5,1129.5 L1520.9,1129.0 L1524.2,1128.6 L1527.6,1128.1 L1530.9,1127.6 L1534.3,1127.2 L1537.7,1126.7 L1541.0,1126.2 L1544.4,1125.8 L1547.8,1125.3 L1551.1,1124.8 L1554.5,1124.4 L1557.9,1123.9 L1561.2,1123.4 L1564.6,1122.9 L1567.9,1122.5 L1571.3,1122.0 L1574.7,1121.5 L1578.0,1121.1 L1581.4,1120.6 L1584.8,1120.1 L1588.1,1119.7 L1591.5,1119.2 L1594.8,1118.7 L1598.2,1118.2 L1601.6,1117.8 L1604.9,1117.3 L1608.3,1116.8 L1611.7,1116.3 L1615.0,1115.9 L1618.4,1115.4 L1621.8,1114.9 L1625.1,1114.4 L1628.5,1113.9 L1631.8,1113.5 L1635.2,1113.0 L1638.6,1112.5 L1641.9,1112.0 L1645.3,1111.5 L1648.7,1110.9 L1652.0,1110.4 L1655.4,1109.9 L1658.7,1109.2 L1662.1,1108.6 L1665.5,1107.8 L1668.8,1107.1 L1672.2,1106.3 L1675.6,1105.5 L1678.9,1104.8 L1682.3,1104.0 L1685.7,1103.1 L1689.0,1102.3 L1692.4,1101.4 L1695.7,1100.6 L1699.1,1099.7 L1702.5,1098.9 L1705.8,1098.0 L1709.2,1097.2 L1712.6,1096.3 L1715.9,1095.4 L1719.3,1094.6 L1722.6,1093.8 L1726.0,1093.0 L1729.4,1092.2 L1732.7,1091.5 L1736.1,1090.8 L1739.5,1090.1 L1742.8,1089.4 L1746.2,1088.7 L1749.6,1088.1 L1752.9,1087.5 L1756.3,1087.0 L1759.6,1086.4 L1763.0,1085.9 L1766.4,1085.3 L1769.7,1084.8 L1773.1,1084.3 L1776.5,1083.8 L1779.8,1083.4 L1783.2,1083.1 L1786.6,1083.0 L1789.9,1082.8 L1793.3,1082.6 L1796.6,1082.5 L1800.0,1082.5 L1803.4,1082.5 L1806.7,1082.6 L1810.1,1082.7 L1813.5,1082.9 L1816.8,1083.2 L1820.2,1083.5 L1823.5,1083.9 L1826.9,1084.3 L1830.3,1084.7 L1833.6,1085.2 L1837.0,1085.8 L1840.4,1086.4 L1843.7,1087.1 L1847.1,1087.8 L1850.5,1088.6 L1853.8,1089.5 L1857.2,1090.3 L1860.5,1091.3 L1863.9,1092.3 L1867.3,1093.3 L1870.6,1094.4 L1874.0,1095.6 L1877.4,1096.8 L1880.7,1098.0 L1884.1,1099.3 L1887.4,1100.7 L1890.8,1102.1 L1894.2,1103.6 L1897.5,1105.1 L1900.9,1106.6 L1904.3,1108.2 L1907.6,1109.8 L1911.0,1111.5 L1914.4,1113.2 L1917.7,1114.9 L1921.1,1116.7 L1924.4,1118.6 L1927.8,1120.5 L1931.2,1122.4 L1934.5,1124.3 L1937.9,1126.3 L1941.3,1128.4 L1944.6,1130.4 L1948.0,1132.6 L1951.3,1134.7 L1954.7,1136.9 L1958.1,1139.1 L1961.4,1141.3 L1964.8,1143.6 L1968.2,1145.9 L1971.5,1148.2 L1974.9,1150.6 L1978.3,1153.0 L1981.6,1155.4 L1985.0,1157.9 L1988.3,1160.4 L1991.7,1162.9 L1995.1,1165.4 L1998.4,1168.0 L2001.8,1170.5 L2005.2,1173.1 L2006.0,1173.8 L2006.8,1174.4 L2007.7,1175.1 L2008.5,1175.8 L2009.4,1176.4 L2010.2,1177.1 L2011.0,1177.8 L2011.9,1178.5 L2012.7,1179.2 L2013.6,1179.9 L2014.4,1180.6 L2015.3,1181.3 L2016.1,1182.1 L2016.9,1182.8 L2017.8,1183.5 L2018.6,1184.2 L2019.5,1185.0 L2020.3,1185.7 L2021.1,1186.4 L2022.0,1187.2 L2022.8,1187.9 L2023.7,1188.5 L2024.5,1189.2 L2025.3,1189.8 L2026.2,1190.5 L2027.0,1191.2 L2027.9,1191.8 L2028.7,1192.6 L2029.5,1193.3 L2030.4,1194.2 L2031.2,1195.1 L2032.1,1196.0 L2032.9,1197.1 L2033.7,1198.3 L2034.6,1199.6 L2035.4,1201.0 L2036.3,1202.4 L2037.1,1203.9 L2038.0,1205.4 L2038.8,1207.0 L2039.6,1208.6 L2040.5,1210.3 L2041.3,1212.0 L2042.2,1213.8 L2043.0,1215.8 L2043.8,1217.8 L2044.7,1219.9 L2045.5,1222.1 L2046.4,1224.4 L2047.2,1226.8 L2048.0,1229.3 L2048.9,1232.0 L2049.7,1234.9 L2050.6,1238.1 L2051.4,1241.6 L2052.2,1245.4 L2053.1,1249.7 L2053.9,1254.5 L2054.8,1260.0 L2055.6,1266.4 L2056.5,1274.7 L2057.3,1284.8 L2058.1,1296.1 L2059.0,1309.0 L2059.6,1321.0"/>
<path stroke="#0070C0" stroke-dasharray="42.77 24.44" d="M172.2,1321.0 L205.8,1313.8 L239.5,1306.5 L273.1,1299.3 L306.7,1292.0 L340.4,1284.8 L374.0,1277.6 L407.6,1270.3 L441.3,1263.1 L474.9,1255.9 L508.5,1248.6 L542.2,1241.4 L575.8,1234.2 L609.4,1226.9 L643.1,1219.7 L676.7,1212.5 L710.3,1205.3 L743.9,1198.0 L777.6,1190.8 L811.2,1183.6 L844.8,1176.4 L878.5,1169.1 L912.1,1161.9 L945.7,1154.7 L979.4,1147.5 L1013.0,1140.3 L1046.6,1133.1 L1080.3,1125.9 L1113.9,1118.7 L1147.5,1111.5 L1181.2,1104.3 L1214.8,1097.1 L1248.4,1089.9 L1282.1,1082.7 L1315.7,1075.5 L1349.3,1068.3 L1383.0,1061.2 L1416.6,1054.0 L1450.2,1046.8 L1483.9,1039.6 L1487.2,1038.9 L1490.6,1038.2 L1493.9,1037.4 L1497.3,1036.7 L1500.7,1036.0 L1504.0,1035.3 L1507.4,1034.6 L1510.8,1033.8 L1514.1,1033.1 L1517.5,1032.4 L1520.9,1031.7 L1524.2,1031.0 L1527.6,1030.2 L1530.9,1029.5 L1534.3,1028.8 L1537.7,1028.1 L1541.0,1027.4 L1544.4,1026.7 L1547.8,1025.9 L1551.1,1025.2 L1554.5,1024.5 L1557.9,1023.8 L1561.2,1023.1 L1564.6,1022.3 L1567.9,1021.6 L1571.3,1020.9 L1574.7,1020.2 L1578.0,1019.5 L1581.4,1018.7 L1584.8,1018.0 L1588.1,1017.3 L1591.5,1016.6 L1594.8,1015.9 L1598.2,1015.1 L1601.6,1014.4 L1604.9,1013.7 L1608.3,1013.0 L1611.7,1012.3 L1615.0,1011.5 L1618.4,1010.8 L1621.8,1010.1 L1625.1,1009.4 L1628.5,1008.7 L1631.8,1007.9 L1635.2,1007.2 L1638.6,1006.4 L1641.9,1005.6 L1645.3,1004.8 L1648.7,1003.9 L1652.0,1003.1 L1655.4,1002.2 L1658.7,1001.3 L1662.1,1000.3 L1665.5,999.3 L1668.8,998.3 L1672.2,997.2 L1675.6,996.2 L1678.9,995.2 L1682.3,994.1 L1685.7,993.0 L1689.0,991.9 L1692.4,990.7 L1695.7,989.5 L1699.1,988.1 L1702.5,986.6 L1705.8,985.1 L1709.2,983.6 L1712.6,982.1 L1715.9,980.7 L1719.3,979.1 L1722.6,977.5 L1726.0,976.0 L1729.4,974.4 L1732.7,972.9 L1736.1,971.4 L1739.5,970.1 L1742.8,968.7 L1746.2,967.4 L1749.6,966.1 L1752.9,964.8 L1756.3,963.6 L1759.6,962.5 L1763.0,961.6 L1766.4,960.7 L1769.7,959.9 L1773.1,959.1 L1776.5,958.4 L1779.8,957.6 L1783.2,956.8 L1786.6,956.2 L1789.9,955.9 L1793.3,955.7 L1796.6,955.7 L1800.0,955.7 L1803.4,955.8 L1806.7,956.0 L1810.1,956.5 L1813.5,957.2 L1816.8,958.1 L1820.2,959.0 L1823.5,960.0 L1826.9,961.1 L1830.3,962.4 L1833.6,963.9 L1837.0,965.4 L1840.4,967.0 L1843.7,968.6 L1847.1,970.3 L1850.5,972.1 L1853.8,974.1 L1857.2,976.2 L1860.5,978.6 L1863.9,981.5 L1867.3,984.6 L1870.6,987.8 L1874.0,991.1 L1877.4,994.3 L1880.7,997.6 L1884.1,1001.0 L1887.4,1004.5 L1890.8,1008.1 L1894.2,1011.8 L1897.5,1015.6 L1900.9,1019.4 L1904.3,1023.2 L1907.6,1027.1 L1911.0,1031.2 L1914.4,1035.3 L1917.7,1039.4 L1921.1,1043.5 L1924.4,1047.6 L1927.8,1051.7 L1931.2,1056.0 L1934.5,1060.3 L1937.9,1064.7 L1941.3,1069.0 L1944.6,1073.4 L1948.0,1077.9 L1951.3,1082.5 L1954.7,1087.2 L1958.1,1091.9 L1961.4,1096.7 L1964.8,1101.6 L1968.2,1106.6 L1971.5,1111.4 L1974.9,1116.3 L1978.3,1121.0 L1981.6,1125.8 L1985.0,1130.7 L1988.3,1135.9 L1991.7,1141.3 L1995.1,1146.8 L1998.4,1152.3 L2001.8,1157.7 L2005.2,1163.2 L2006.0,1164.6 L2006.8,1166.0 L2007.7,1167.3 L2008.5,1168.7 L2009.4,1170.2 L2010.2,1171.6 L2011.0,1173.1 L2011.9,1174.7 L2012.7,1176.2 L2013.6,1177.7 L2014.4,1179.2 L2015.3,1180.6 L2016.1,1182.0 L2016.9,1183.3 L2017.8,1184.6 L2018.6,1185.7 L2019.5,1186.8 L2020.3,1187.8 L2021.1,1188.7 L2022.0,1189.6 L2022.8,1190.4 L2023.7,1191.3 L2024.5,1192.2 L2025.3,1193.1 L2026.2,1194.2 L2027.0,1195.2 L2027.9,1196.3 L2028.7,1197.4 L2029.5,1198.6 L2030.4,1199.8 L2031.2,1201.1 L2032.1,1202.4 L2032.9,1203.9 L2033.7,1205.4 L2034.6,1206.9 L2035.4,1208.6 L2036.3,1210.2 L2037.1,1212.0 L2038.0,1213.8 L2038.8,1215.7 L2039.6,1217.6 L2040.5,1219.7 L2041.3,1221.7 L2042.2,1223.9 L2043.0,1226.0 L2043.8,1228.3 L2044.7,1230.6 L2045.5,1233.0 L2046.4,1235.6 L2047.2,1238.2 L2048.0,1240.9 L2048.9,1243.8 L2049.7,1246.8 L2050.6,1250.1 L2051.4,1253.5 L2052.2,1257.1 L2053.1,1261.1 L2053.9,1265.5 L2054.8,1270.6 L2055.6,1276.6 L2056.5,1283.7 L2057.3,1291.7 L2058.1,1301.0 L2059.0,1311.6 L2059.6,1321.0"/>
<path stroke="#0070C0" stroke-dasharray="42.77 24.44 0.01 24.44" d="M172.2,1321.0 L205.8,1311.3 L239.5,1301.7 L273.1,1292.0 L306.7,1282.3 L340.4,1272.7 L374.0,1263.0 L407.6,1253.4 L441.3,1243.7 L474.9,1234.0 L508.5,1224.4 L542.2,1214.7 L575.8,1205.1 L609.4,1195.4 L643.1,1185.8 L676.7,1176.1 L710.3,1166.5 L743.9,1156.8 L777.6,1147.2 L811.2,1137.5 L844.8,1127.9 L878.5,1118.2 L912.1,1108.6 L945.7,1098.9 L979.4,1089.3 L1013.0,1079.7 L1046.6,1070.1 L1080.3,1060.4 L1113.9,1050.8 L1147.5,1041.2 L1181.2,1031.6 L1214.8,1022.0 L1248.4,1012.4 L1282.1,1002.8 L1315.7,993.2 L1349.3,983.5 L1383.0,973.9 L1416.6,964.3 L1450.2,954.7 L1483.9,945.0 L1487.2,944.1 L1490.6,943.1 L1493.9,942.2 L1497.3,941.2 L1500.7,940.2 L1504.0,939.3 L1507.4,938.3 L1510.8,937.3 L1514.1,936.4 L1517.5,935.4 L1520.9,934.4 L1524.2,933.5 L1527.6,932.5 L1530.9,931.5 L1534.3,930.6 L1537.7,929.6 L1541.0,928.7 L1544.4,927.7 L1547.8,926.7 L1551.1,925.8 L1554.5,924.8 L1557.9,923.8 L1561.2,922.9 L1564.6,921.9 L1567.9,920.9 L1571.3,920.0 L1574.7,919.0 L1578.0,918.1 L1581.4,917.1 L1584.8,916.1 L1588.1,915.2 L1591.5,914.2 L1594.8,913.2 L1598.2,912.3 L1601.6,911.3 L1604.9,910.3 L1608.3,909.4 L1611.7,908.4 L1615.0,907.4 L1618.4,906.5 L1621.8,905.5 L1625.1,904.6 L1628.5,903.6 L1631.8,902.6 L1635.2,901.7 L1638.6,900.7 L1641.9,899.7 L1645.3,898.7 L1648.7,897.8 L1652.0,896.8 L1655.4,895.8 L1658.7,894.7 L1662.1,893.5 L1665.5,892.2 L1668.8,890.9 L1672.2,889.5 L1675.6,888.2 L1678.9,886.7 L1682.3,885.0 L1685.7,883.2 L1689.0,881.3 L1692.4,879.3 L1695.7,877.2 L1699.1,875.2 L1702.5,873.2 L1705.8,871.2 L1709.2,869.2 L1712.6,867.1 L1715.9,865.1 L1719.3,863.0 L1722.6,861.0 L1726.0,858.9 L1729.4,856.8 L1732.7,854.7 L1736.1,852.7 L1739.5,850.7 L1742.8,848.7 L1746.2,846.8 L1749.6,844.8 L1752.9,843.0 L1756.3,841.1 L1759.6,839.4 L1763.0,837.8 L1766.4,836.3 L1769.7,834.9 L1773.1,833.5 L1776.5,832.4 L1779.8,831.5 L1783.2,831.0 L1786.6,830.6 L1789.9,830.3 L1793.3,830.3 L1796.6,830.5 L1800.0,830.9 L1803.4,831.3 L1806.7,831.8 L1810.1,832.4 L1813.5,833.2 L1816.8,834.2 L1820.2,835.4 L1823.5,836.9 L1826.9,838.6 L1830.3,840.4 L1833.6,842.5 L1837.0,844.8 L1840.4,847.4 L1843.7,850.2 L1847.1,853.2 L1850.5,856.7 L1853.8,860.6 L1857.2,864.7 L1860.5,868.9 L1863.9,873.1 L1867.3,877.5 L1870.6,882.0 L1874.0,886.7 L1877.4,891.8 L1880.7,897.2 L1884.1,902.8 L1887.4,908.3 L1890.8,914.0 L1894.2,919.9 L1897.5,925.8 L1900.9,931.6 L1904.3,937.5 L1907.6,943.6 L1911.0,950.1 L1914.4,956.3 L1917.7,962.8 L1921.1,969.3 L1924.4,976.1 L1927.8,982.9 L1931.2,989.6 L1934.5,996.2 L1937.9,1002.7 L1941.3,1009.3 L1944.6,1016.0 L1948.0,1023.0 L1951.3,1030.2 L1954.7,1037.7 L1958.1,1045.3 L1961.4,1053.0 L1964.8,1060.9 L1968.2,1068.6 L1971.5,1076.2 L1974.9,1083.8 L1978.3,1091.3 L1981.6,1098.9 L1985.0,1106.5 L1988.3,1114.1 L1991.7,1121.7 L1995.1,1129.5 L1998.4,1137.4 L2001.8,1145.7 L2005.2,1154.4 L2006.0,1156.6 L2006.8,1158.9 L2007.7,1161.1 L2008.5,1163.3 L2009.4,1165.5 L2010.2,1167.6 L2011.0,1169.8 L2011.9,1171.9 L2012.7,1174.0 L2013.6,1176.0 L2014.4,1177.9 L2015.3,1179.8 L2016.1,1181.6 L2016.9,1183.3 L2017.8,1185.0 L2018.6,1186.6 L2019.5,1188.1 L2020.3,1189.5 L2021.1,1190.9 L2022.0,1192.3 L2022.8,1193.7 L2023.7,1195.1 L2024.5,1196.5 L2025.3,1197.9 L2026.2,1199.3 L2027.0,1200.7 L2027.9,1202.1 L2028.7,1203.6 L2029.5,1205.1 L2030.4,1206.6 L2031.2,1208.3 L2032.1,1210.0 L2032.9,1211.7 L2033.7,1213.6 L2034.6,1215.5 L2035.4,1217.4 L2036.3,1219.5 L2037.1,1221.6 L2038.0,1223.8 L2038.8,1226.1 L2039.6,1228.4 L2040.5,1230.8 L2041.3,1233.3 L2042.2,1235.7 L2043.0,1238.2 L2043.8,1240.8 L2044.7,1243.4 L2045.5,1246.1 L2046.4,1248.9 L2047.2,1251.7 L2048.0,1254.7 L2048.9,1257.7 L2049.7,1260.9 L2050.6,1264.2 L2051.4,1267.5 L2052.2,1270.9 L2053.1,1274.4 L2053.9,1278.3 L2054.8,1282.7 L2055.6,1287.6 L2056.5,1293.2 L2057.3,1299.4 L2058.1,1306.4 L2059.0,1314.2 L2059.6,1321.0"/>
<path stroke="#0070C0" stroke-dasharray="12.22 12.22" d="M172.2,1321.0 L205.8,1306.5 L239.5,1292.1 L273.1,1277.6 L306.7,1263.2 L340.4,1248.7 L374.0,1234.2 L407.6,1219.8 L441.3,1205.3 L474.9,1190.9 L508.5,1176.4 L542.2,1162.0 L575.8,1147.5 L609.4,1133.1 L643.1,1118.7 L676.7,1104.2 L710.3,1089.8 L743.9,1075.3 L777.6,1060.9 L811.2,1046.5 L844.8,1032.1 L878.5,1017.6 L912.1,1003.2 L945.7,988.8 L979.4,974.4 L1013.0,960.0 L1046.6,945.6 L1080.3,931.2 L1113.9,916.8 L1147.5,902.5 L1181.2,888.1 L1214.8,873.7 L1248.4,859.3 L1282.1,844.9 L1315.7,830.6 L1349.3,816.2 L1383.0,801.8 L1416.6,787.4 L1450.2,773.0 L1483.9,758.5 L1487.2,757.0 L1490.6,755.5 L1493.9,753.9 L1497.3,752.4 L1500.7,750.8 L1504.0,749.2 L1507.4,747.6 L1510.8,746.0 L1514.1,744.3 L1517.5,742.6 L1520.9,740.9 L1524.2,739.3 L1527.6,737.6 L1530.9,736.0 L1534.3,734.4 L1537.7,732.7 L1541.0,731.1 L1544.4,729.5 L1547.8,727.9 L1551.1,726.4 L1554.5,724.8 L1557.9,723.3 L1561.2,721.7 L1564.6,720.2 L1567.9,718.7 L1571.3,717.2 L1574.7,715.7 L1578.0,714.3 L1581.4,712.8 L1584.8,711.4 L1588.1,709.9 L1591.5,708.4 L1594.8,707.0 L1598.2,705.6 L1601.6,704.2 L1604.9,702.9 L1608.3,701.6 L1611.7,700.4 L1615.0,699.1 L1618.4,697.9 L1621.8,696.7 L1625.1,695.5 L1628.5,694.4 L1631.8,693.2 L1635.2,692.2 L1638.6,691.1 L1641.9,690.1 L1645.3,689.0 L1648.7,687.9 L1652.0,686.7 L1655.4,685.4 L1658.7,684.1 L1662.1,682.8 L1665.5,681.5 L1668.8,680.1 L1672.2,678.7 L1675.6,677.2 L1678.9,675.6 L1682.3,674.1 L1685.7,672.5 L1689.0,670.9 L1692.4,669.3 L1695.7,667.7 L1699.1,666.1 L1702.5,664.5 L1705.8,662.8 L1709.2,661.2 L1712.6,659.5 L1715.9,657.8 L1719.3,656.2 L1722.6,654.5 L1726.0,652.8 L1729.4,651.2 L1732.7,649.6 L1736.1,648.1 L1739.5,646.7 L1742.8,645.4 L1746.2,644.0 L1749.6,642.8 L1752.9,641.7 L1756.3,640.7 L1759.6,639.8 L1763.0,638.9 L1766.4,638.2 L1769.7,637.6 L1773.1,637.2 L1776.5,636.8 L1779.8,636.6 L1783.2,636.6 L1786.6,636.8 L1789.9,637.2 L1793.3,637.7 L1796.6,638.5 L1800.0,639.4 L1803.4,640.6 L1806.7,642.1 L1810.1,643.8 L1813.5,645.7 L1816.8,647.8 L1820.2,650.1 L1823.5,652.6 L1826.9,655.3 L1830.3,658.3 L1833.6,661.8 L1837.0,666.3 L1840.4,671.8 L1843.7,677.5 L1847.1,683.8 L1850.5,690.2 L1853.8,696.9 L1857.2,703.6 L1860.5,710.2 L1863.9,716.9 L1867.3,724.1 L1870.6,731.5 L1874.0,739.0 L1877.4,746.6 L1880.7,754.4 L1884.1,762.4 L1887.4,770.5 L1890.8,778.5 L1894.2,786.6 L1897.5,794.9 L1900.9,803.3 L1904.3,812.0 L1907.6,820.9 L1911.0,829.8 L1914.4,838.9 L1917.7,848.5 L1921.1,858.7 L1924.4,869.2 L1927.8,880.4 L1931.2,891.7 L1934.5,902.8 L1937.9,913.9 L1941.3,924.6 L1944.6,934.9 L1948.0,945.0 L1951.3,955.5 L1954.7,966.3 L1958.1,976.9 L1961.4,987.3 L1964.8,997.7 L1968.2,1008.0 L1971.5,1018.6 L1974.9,1029.5 L1978.3,1040.6 L1981.6,1051.4 L1985.0,1061.9 L1988.3,1072.9 L1991.7,1084.9 L1995.1,1097.1 L1998.4,1108.9 L2001.8,1120.7 L2005.2,1133.2 L2006.0,1136.5 L2006.8,1139.7 L2007.7,1143.0 L2008.5,1146.3 L2009.4,1149.5 L2010.2,1152.8 L2011.0,1156.0 L2011.9,1159.2 L2012.7,1162.4 L2013.6,1165.6 L2014.4,1168.7 L2015.3,1171.7 L2016.1,1174.6 L2016.9,1177.4 L2017.8,1180.2 L2018.6,1182.8 L2019.5,1185.4 L2020.3,1188.0 L2021.1,1190.5 L2022.0,1192.9 L2022.8,1195.3 L2023.7,1197.6 L2024.5,1199.7 L2025.3,1201.8 L2026.2,1203.7 L2027.0,1205.4 L2027.9,1207.1 L2028.7,1208.8 L2029.5,1210.6 L2030.4,1212.4 L2031.2,1214.4 L2032.1,1216.4 L2032.9,1218.5 L2033.7,1220.6 L2034.6,1222.9 L2035.4,1225.2 L2036.3,1227.5 L2037.1,1230.1 L2038.0,1232.7 L2038.8,1235.4 L2039.6,1238.2 L2040.5,1240.9 L2041.3,1243.7 L2042.2,1246.5 L2043.0,1249.4 L2043.8,1252.3 L2044.7,1255.2 L2045.5,1258.2 L2046.4,1261.2 L2047.2,1264.4 L2048.0,1267.6 L2048.9,1270.8 L2049.7,1274.1 L2050.6,1277.4 L2051.4,1280.7 L2052.2,1283.9 L2053.1,1287.1 L2053.9,1290.4 L2054.8,1294.0 L2055.6,1297.9 L2056.5,1302.1 L2057.3,1306.5 L2058.1,1311.4 L2059.0,1316.6 L2059.6,1321.0"/>
<path stroke="#0070C0" stroke-dasharray="0.01 12.22" d="M172.2,1321.0 L205.8,1297.3 L239.5,1273.7 L273.1,1250.0 L306.7,1226.4 L340.4,1202.7 L374.0,1179.0 L407.6,1155.4 L441.3,1131.7 L474.9,1108.1 L508.5,1084.4 L542.2,1060.8 L575.8,1037.1 L609.4,1013.5 L643.1,989.8 L676.7,966.2 L710.3,942.5 L743.9,918.9 L777.6,895.3 L811.2,871.6 L844.8,848.0 L878.5,824.3 L912.1,800.7 L945.7,777.1 L979.4,753.4 L1013.0,729.8 L1046.6,706.2 L1080.3,682.6 L1113.9,659.0 L1147.5,635.4 L1181.2,611.8 L1214.8,588.2 L1248.4,564.6 L1282.1,541.0 L1315.7,517.4 L1349.3,493.8 L1383.0,470.1 L1416.6,446.5 L1450.2,422.9 L1483.9,398.7 L1487.2,395.8 L1490.6,392.9 L1493.9,389.9 L1497.3,386.8 L1500.7,383.6 L1504.0,380.4 L1507.4,377.3 L1510.8,374.2 L1514.1,371.0 L1517.5,367.6 L1520.9,364.2 L1524.2,360.7 L1527.6,357.3 L1530.9,354.0 L1534.3,350.6 L1537.7,347.2 L1541.0,343.9 L1544.4,340.5 L1547.8,337.1 L1551.1,333.7 L1554.5,330.4 L1557.9,327.0 L1561.2,323.8 L1564.6,320.6 L1567.9,317.5 L1571.3,314.5 L1574.7,311.6 L1578.0,308.9 L1581.4,306.3 L1584.8,303.7 L1588.1,301.2 L1591.5,299.1 L1594.8,297.1 L1598.2,295.3 L1601.6,293.7 L1604.9,292.3 L1608.3,291.0 L1611.7,289.9 L1615.0,289.0 L1618.4,288.2 L1621.8,287.7 L1625.1,287.6 L1628.5,287.7 L1631.8,288.0 L1635.2,288.4 L1638.6,289.1 L1641.9,290.2 L1645.3,291.8 L1648.7,293.6 L1652.0,295.7 L1655.4,298.0 L1658.7,300.7 L1662.1,303.7 L1665.5,307.1 L1668.8,310.7 L1672.2,314.3 L1675.6,318.3 L1678.9,322.6 L1682.3,327.4 L1685.7,332.6 L1689.0,337.8 L1692.4,343.0 L1695.7,348.2 L1699.1,353.7 L1702.5,359.4 L1705.8,365.1 L1709.2,371.1 L1712.6,377.4 L1715.9,383.9 L1719.3,390.1 L1722.6,396.3 L1726.0,402.8 L1729.4,410.0 L1732.7,417.4 L1736.1,424.7 L1739.5,431.9 L1742.8,439.2 L1746.2,446.7 L1749.6,454.3 L1752.9,461.6 L1756.3,468.9 L1759.6,476.6 L1763.0,484.8 L1766.4,493.0 L1769.7,501.0 L1773.1,508.9 L1776.5,516.9 L1779.8,525.2 L1783.2,533.5 L1786.6,542.0 L1789.9,550.5 L1793.3,559.0 L1796.6,567.6 L1800.0,576.1 L1803.4,584.6 L1806.7,593.0 L1810.1,601.2 L1813.5,609.7 L1816.8,618.4 L1820.2,627.0 L1823.5,635.6 L1826.9,644.2 L1830.3,652.9 L1833.6,661.5 L1837.0,670.1 L1840.4,678.7 L1843.7,687.3 L1847.1,695.9 L1850.5,704.5 L1853.8,713.1 L1857.2,721.7 L1860.5,730.4 L1863.9,739.1 L1867.3,747.8 L1870.6,756.5 L1874.0,765.2 L1877.4,773.9 L1880.7,782.7 L1884.1,791.5 L1887.4,800.4 L1890.8,809.3 L1894.2,818.2 L1897.5,827.2 L1900.9,836.3 L1904.3,845.4 L1907.6,854.5 L1911.0,863.7 L1914.4,873.0 L1917.7,882.2 L1921.1,891.4 L1924.4,900.7 L1927.8,910.1 L1931.2,919.5 L1934.5,929.0 L1937.9,938.7 L1941.3,948.5 L1944.6,958.4 L1948.0,968.3 L1951.3,978.1 L1954.7,987.8 L1958.1,997.3 L1961.4,1006.7 L1964.8,1016.2 L1968.2,1025.8 L1971.5,1035.7 L1974.9,1045.9 L1978.3,1056.6 L1981.6,1067.5 L1985.0,1078.7 L1988.3,1089.9 L1991.7,1101.3 L1995.1,1112.7 L1998.4,1124.6 L2001.8,1137.1 L2005.2,1149.5 L2006.0,1152.6 L2006.8,1155.5 L2007.7,1158.5 L2008.5,1161.3 L2009.4,1164.1 L2010.2,1166.8 L2011.0,1169.4 L2011.9,1171.9 L2012.7,1174.3 L2013.6,1176.6 L2014.4,1178.6 L2015.3,1180.4 L2016.1,1182.0 L2016.9,1183.7 L2017.8,1185.5 L2018.6,1187.5 L2019.5,1189.6 L2020.3,1191.7 L2021.1,1194.0 L2022.0,1196.2 L2022.8,1198.5 L2023.7,1200.8 L2024.5,1203.1 L2025.3,1205.5 L2026.2,1207.9 L2027.0,1210.2 L2027.9,1212.5 L2028.7,1214.7 L2029.5,1216.8 L2030.4,1218.8 L2031.2,1220.9 L2032.1,1223.1 L2032.9,1225.4 L2033.7,1227.9 L2034.6,1230.7 L2035.4,1233.6 L2036.3,1236.8 L2037.1,1240.0 L2038.0,1243.2 L2038.8,1246.4 L2039.6,1249.5 L2040.5,1252.6 L2041.3,1255.7 L2042.2,1258.9 L2043.0,1262.1 L2043.8,1265.3 L2044.7,1268.6 L2045.5,1272.0 L2046.4,1275.6 L2047.2,1279.3 L2048.0,1283.1 L2048.9,1286.7 L2049.7,1290.1 L2050.6,1293.2 L2051.4,1296.2 L2052.2,1299.2 L2053.1,1302.0 L2053.9,1304.8 L2054.8,1307.5 L2055.6,1310.1 L2056.5,1312.6 L2057.3,1315.0 L2058.1,1317.3 L2059.0,1319.4 L2059.6,1321.0"/>
</g>
<g fill="none" stroke-width="6.05" stroke-linecap="round"><path stroke="#FF0000" d="M158.3,1491.7 L258.2,1491.7"/><path stroke="#FF0000" stroke-dasharray="42.77 24.44" d="M936.4,1491.7 L1037.8,1491.7"/><path stroke="#FF0000" stroke-dasharray="42.77 24.44 0.01 24.44 0.01 24.44" d="M1715.1,1491.7 L1815.9,1491.7"/><path stroke="#FF0000" stroke-dasharray="12.22 12.22" d="M158.3,1540.3 L258.2,1540.3"/><path stroke="#FF0000" stroke-dasharray="0.01 12.22" d="M936.4,1540.3 L1037.8,1540.3"/><path stroke="#0070C0" d="M1715.1,1540.3 L1815.9,1540.3"/><path stroke="#0070C0" stroke-dasharray="42.77 24.44" d="M158.3,1588.8 L258.2,1588.8"/><path stroke="#0070C0" stroke-dasharray="42.77 24.44 0.01 24.44" d="M936.4,1588.8 L1037.8,1588.8"/><path stroke="#0070C0" stroke-dasharray="12.22 12.22" d="M1715.1,1588.8 L1815.9,1588.8"/><path stroke="#0070C0" stroke-dasharray="0.01 12.22" d="M158.3,1637.4 L258.2,1637.4"/></g>
<g>
<text transform="translate(707.13,81.90) scale(0.9299,1)" font-size="74.00" font-weight="bold" xml:space="preserve">Performance Curves 145-FZS48-012</text>
<text transform="translate(1115.02,1453.10) scale(0.9589,1)" font-size="50.80" font-weight="bold" xml:space="preserve">Speed (RPM)</text>
<text transform="translate(75.30,854.69) rotate(-90) scale(0.9696,1)" font-size="50.80" font-weight="bold" xml:space="preserve">Torque (Nm)</text>
<text transform="translate(2502.10,846.17) rotate(-90) scale(0.9831,1)" font-size="50.80" font-weight="bold" xml:space="preserve">Power (kW)</text>
<text transform="translate(120.53,1331.50) scale(1.0000,1)" font-size="33.40" font-weight="normal" xml:space="preserve">0</text>
<text transform="translate(2391.67,1331.50) scale(1.0000,1)" font-size="33.40" font-weight="normal" xml:space="preserve">0</text>
<text transform="translate(163.47,1378.10) scale(1.0000,1)" font-size="33.40" font-weight="normal" xml:space="preserve">0</text>
<text transform="translate(120.53,1209.20) scale(1.0000,1)" font-size="33.40" font-weight="normal" xml:space="preserve">3</text>
<text transform="translate(2391.67,1209.20) scale(0.9650,1)" font-size="33.40" font-weight="normal" xml:space="preserve">0.3</text>
<text transform="translate(362.74,1378.10) scale(1.0000,1)" font-size="33.40" font-weight="normal" xml:space="preserve">130</text>
<text transform="translate(120.53,1086.90) scale(1.0000,1)" font-size="33.40" font-weight="normal" xml:space="preserve">6</text>
<text transform="translate(2391.67,1086.90) scale(0.9650,1)" font-size="33.40" font-weight="normal" xml:space="preserve">0.6</text>
<text transform="translate(581.84,1378.10) scale(1.0000,1)" font-size="33.40" font-weight="normal" xml:space="preserve">260</text>
<text transform="translate(120.53,964.60) scale(1.0000,1)" font-size="33.40" font-weight="normal" xml:space="preserve">9</text>
<text transform="translate(2391.67,964.60) scale(0.9650,1)" font-size="33.40" font-weight="normal" xml:space="preserve">0.9</text>
<text transform="translate(800.61,1378.10) scale(1.0000,1)" font-size="33.40" font-weight="normal" xml:space="preserve">390</text>
<text transform="translate(102.20,842.30) scale(1.0000,1)" font-size="33.40" font-weight="normal" xml:space="preserve">12</text>
<text transform="translate(2390.67,842.30) scale(0.9650,1)" font-size="33.40" font-weight="normal" xml:space="preserve">1.2</text>
<text transform="translate(1019.21,1378.10) scale(1.0000,1)" font-size="33.40" font-weight="normal" xml:space="preserve">520</text>
<text transform="translate(101.87,720.00) scale(1.0000,1)" font-size="33.40" font-weight="normal" xml:space="preserve">15</text>
<text transform="translate(2390.67,720.00) scale(0.9650,1)" font-size="33.40" font-weight="normal" xml:space="preserve">1.5</text>
<text transform="translate(1237.48,1378.10) scale(1.0000,1)" font-size="33.40" font-weight="normal" xml:space="preserve">650</text>
<text transform="translate(101.87,597.70) scale(1.0000,1)" font-size="33.40" font-weight="normal" xml:space="preserve">18</text>
<text transform="translate(2390.67,597.70) scale(0.9650,1)" font-size="33.40" font-weight="normal" xml:space="preserve">1.8</text>
<text transform="translate(1456.09,1378.10) scale(1.0000,1)" font-size="33.40" font-weight="normal" xml:space="preserve">780</text>
<text transform="translate(102.20,475.40) scale(1.0000,1)" font-size="33.40" font-weight="normal" xml:space="preserve">21</text>
<text transform="translate(2391.33,475.40) scale(0.9650,1)" font-size="33.40" font-weight="normal" xml:space="preserve">2.1</text>
<text transform="translate(1674.86,1378.10) scale(1.0000,1)" font-size="33.40" font-weight="normal" xml:space="preserve">910</text>
<text transform="translate(101.53,353.10) scale(1.0000,1)" font-size="33.40" font-weight="normal" xml:space="preserve">24</text>
<text transform="translate(2391.33,353.10) scale(0.9650,1)" font-size="33.40" font-weight="normal" xml:space="preserve">2.4</text>
<text transform="translate(1883.63,1378.10) scale(1.0000,1)" font-size="33.40" font-weight="normal" xml:space="preserve">1040</text>
<text transform="translate(102.20,230.80) scale(1.0000,1)" font-size="33.40" font-weight="normal" xml:space="preserve">27</text>
<text transform="translate(2391.33,230.80) scale(0.9650,1)" font-size="33.40" font-weight="normal" xml:space="preserve">2.7</text>
<text transform="translate(2103.56,1378.10) scale(1.0000,1)" font-size="33.40" font-weight="normal" xml:space="preserve">1170</text>
<text transform="translate(101.87,108.50) scale(1.0000,1)" font-size="33.40" font-weight="normal" xml:space="preserve">30</text>
<text transform="translate(2391.67,108.50) scale(1.0000,1)" font-size="33.40" font-weight="normal" xml:space="preserve">3</text>
<text transform="translate(2320.83,1378.10) scale(1.0000,1)" font-size="33.40" font-weight="normal" xml:space="preserve">1300</text>
<text transform="translate(269.71,1503.80) scale(0.9691,1)" font-size="36.20" font-weight="bold" xml:space="preserve">Continuous Torque (Nm) at 12 Arms</text>
<text transform="translate(268.60,1552.40) scale(0.9848,1)" font-size="36.20" font-weight="bold" xml:space="preserve"> Torque (Nm) at 36 Arms</text>
<text transform="translate(270.09,1600.90) scale(0.9823,1)" font-size="36.20" font-weight="bold" xml:space="preserve">Power (kW) at 15 Arms</text>
<text transform="translate(270.11,1649.50) scale(0.9755,1)" font-size="36.20" font-weight="bold" xml:space="preserve">Peak Power (kW) at 60 Arms</text>
<text transform="translate(1047.17,1503.80) scale(0.9843,1)" font-size="36.20" font-weight="bold" xml:space="preserve"> Torque (Nm) at 15 Arms</text>
<text transform="translate(1047.58,1552.40) scale(0.9754,1)" font-size="36.20" font-weight="bold" xml:space="preserve"> Peak Torque (Nm) at 60  Arms</text>
<text transform="translate(1048.66,1600.90) scale(0.9813,1)" font-size="36.20" font-weight="bold" xml:space="preserve">Power (kW) at 24 Arms</text>
<text transform="translate(1825.53,1503.80) scale(0.9856,1)" font-size="36.20" font-weight="bold" xml:space="preserve"> Torque (Nm) at 24 Arms</text>
<text transform="translate(1827.14,1552.40) scale(0.9690,1)" font-size="36.20" font-weight="bold" xml:space="preserve">Continuous Power (kW) at 12 Arms</text>
<text transform="translate(1827.49,1600.90) scale(0.9826,1)" font-size="36.20" font-weight="bold" xml:space="preserve">Power (kW) at 36 Arms</text>
</g>
</svg></body></html>
